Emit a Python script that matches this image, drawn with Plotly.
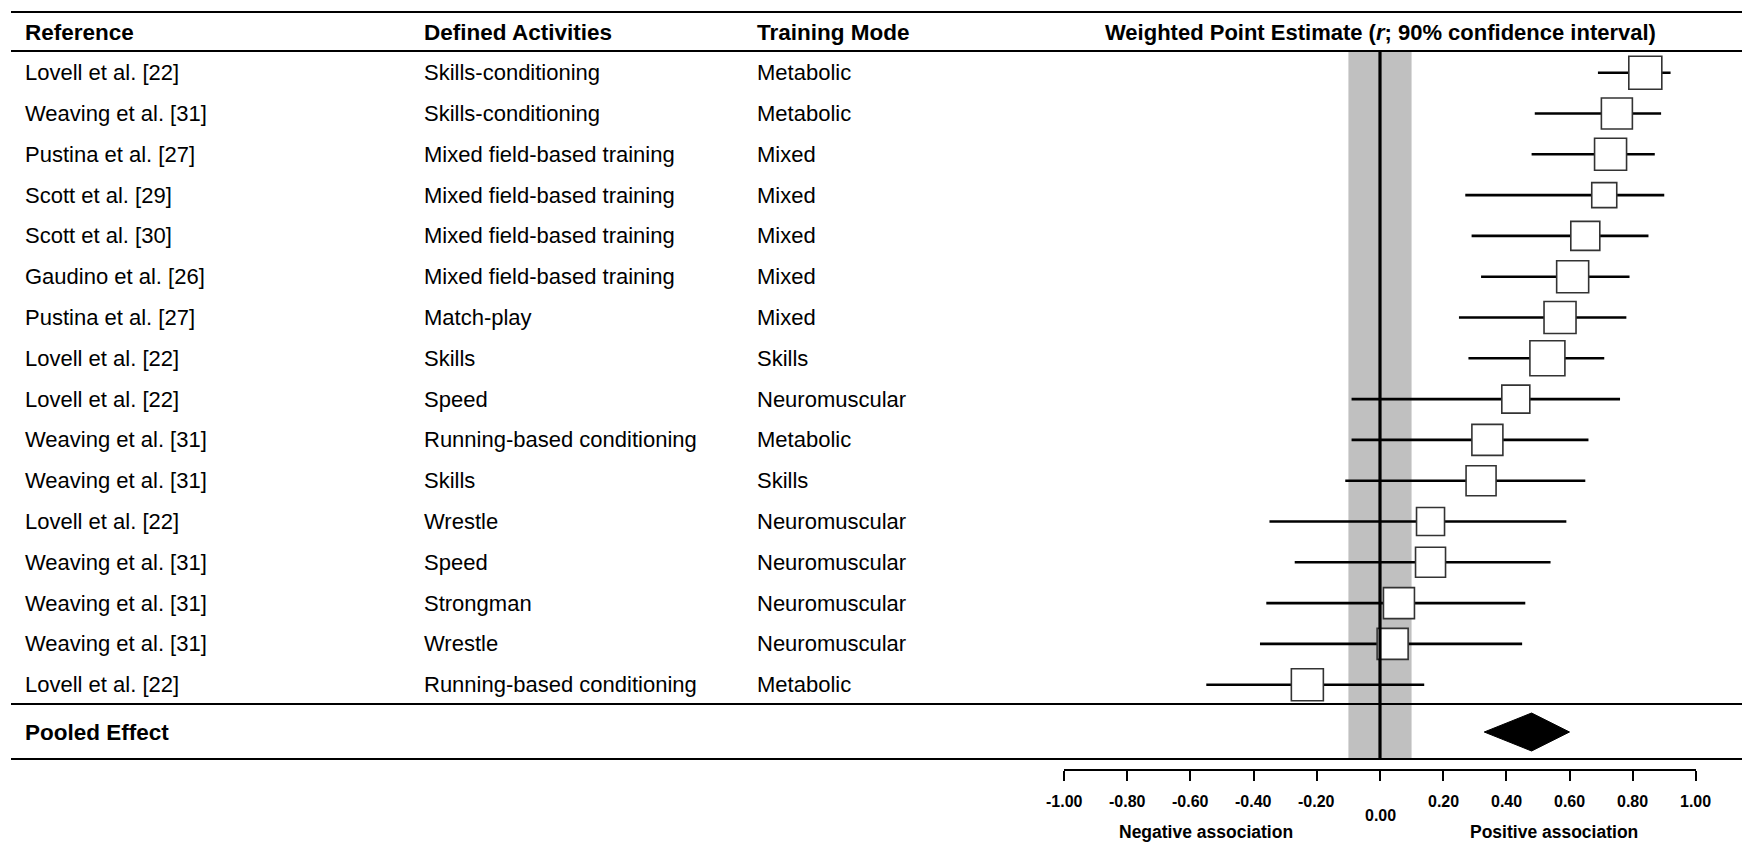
"""Forest plot: training load vs. fitness — weighted point estimates (r; 90% CI)."""

import plotly.graph_objects as go

W, H = 1742, 849

# ---- data -----------------------------------------------------------------
references = [
    "Lovell et al. [22]", "Weaving et al. [31]", "Pustina et al. [27]",
    "Scott et al. [29]", "Scott et al. [30]", "Gaudino et al. [26]",
    "Pustina et al. [27]", "Lovell et al. [22]", "Lovell et al. [22]",
    "Weaving et al. [31]", "Weaving et al. [31]", "Lovell et al. [22]",
    "Weaving et al. [31]", "Weaving et al. [31]", "Weaving et al. [31]",
    "Lovell et al. [22]",
]
activities = [
    "Skills-conditioning", "Skills-conditioning", "Mixed field-based training",
    "Mixed field-based training", "Mixed field-based training",
    "Mixed field-based training", "Match-play", "Skills", "Speed",
    "Running-based conditioning", "Skills", "Wrestle", "Speed", "Strongman",
    "Wrestle", "Running-based conditioning",
]
modes = [
    "Metabolic", "Metabolic", "Mixed", "Mixed", "Mixed", "Mixed", "Mixed",
    "Skills", "Neuromuscular", "Metabolic", "Skills", "Neuromuscular",
    "Neuromuscular", "Neuromuscular", "Neuromuscular", "Metabolic",
]
estimates = [0.84, 0.75, 0.73, 0.71, 0.65, 0.61, 0.57, 0.53,
             0.43, 0.34, 0.32, 0.16, 0.16, 0.06, 0.04, -0.23]
ci_low = [0.69, 0.49, 0.48, 0.27, 0.29, 0.32, 0.25, 0.28,
          -0.09, -0.09, -0.11, -0.35, -0.27, -0.36, -0.38, -0.55]
ci_high = [0.92, 0.89, 0.87, 0.90, 0.85, 0.79, 0.78, 0.71,
           0.76, 0.66, 0.65, 0.59, 0.54, 0.46, 0.45, 0.14]
weights = [33, 31, 32, 25, 29, 32, 32, 35, 28, 31, 30, 28, 30, 31, 31, 32]

pooled_est, pooled_low, pooled_high = 0.48, 0.33, 0.60
trivial = 0.1  # shaded band +/- r
tick_vals = [-1.0, -0.8, -0.6, -0.4, -0.2, 0.0, 0.2, 0.4, 0.6, 0.8, 1.0]

# ---- layout helpers ---------------------------------------------------------
ROW0, ROW_H = 72.7, 40.8  # pixel centre of first row, row pitch
POOLED_ROW = (732 - ROW0) / ROW_H
FONT = "Liberation Sans, Arial, sans-serif"
BLACK = "#000000"


def py(px):
    """pixel-from-top -> paper fraction"""
    return 1 - px / H


def px_x(px):
    return px / W


n = len(references)
rows = list(range(n))

fig = go.Figure()

# CI whiskers
wx, wy = [], []
for i in rows:
    wx += [ci_low[i], ci_high[i], None]
    wy += [i, i, None]
fig.add_trace(go.Scatter(
    x=wx, y=wy, mode="lines", line={"color": BLACK, "width": 2.6},
    hoverinfo="skip", showlegend=False,
))

# point estimates (size array -> plotly would default to 0.7 opacity)
fig.add_trace(go.Scatter(
    x=estimates, y=rows, mode="markers",
    marker={"symbol": "square", "size": weights, "color": "white",
            "opacity": 1,
            "line": {"color": "#333333", "width": 1.6}},
    customdata=list(zip(ci_low, ci_high)),
    hovertemplate="r = %{x:.2f} (%{customdata[0]:.2f}, %{customdata[1]:.2f})<extra></extra>",
    showlegend=False,
))

# pooled diamond
dh = 19 / ROW_H
fig.add_trace(go.Scatter(
    x=[pooled_low, pooled_est, pooled_high, pooled_est, pooled_low],
    y=[POOLED_ROW, POOLED_ROW - dh, POOLED_ROW, POOLED_ROW + dh, POOLED_ROW],
    mode="lines", fill="toself", fillcolor=BLACK,
    line={"color": BLACK, "width": 1}, hoverinfo="skip", showlegend=False,
))

shapes = []
# trivial band + zero line, from header rule to bottom rule
shapes.append(dict(type="rect", xref="x", yref="paper", x0=-trivial, x1=trivial,
                   y0=py(759), y1=py(51), fillcolor="#c0c0c0",
                   line={"width": 0}, layer="below"))
shapes.append(dict(type="line", xref="x", yref="paper", x0=0, x1=0,
                   y0=py(759), y1=py(51), line={"color": BLACK, "width": 3.2}))
# table rules
for ypx in (12, 51, 704, 759):
    shapes.append(dict(type="line", xref="paper", yref="paper",
                       x0=px_x(11), x1=1, y0=py(ypx), y1=py(ypx),
                       line={"color": BLACK, "width": 2.2}))

ann = []
col_x = [px_x(23), px_x(422), px_x(755)]
headers = ["Reference", "Defined Activities", "Training Mode"]
for cx, h in zip(col_x, headers):
    ann.append(dict(x=cx, y=py(32), xref="paper", yref="paper", text=f"<b>{h}</b>",
                    xanchor="left", yanchor="middle", showarrow=False,
                    font={"size": 22.5, "family": FONT, "color": BLACK}))
ann.append(dict(x=0, y=py(32), xref="x", yref="paper",
                text="<b>Weighted Point Estimate (<i>r</i>; 90% confidence interval)</b>",
                xanchor="center", yanchor="middle", showarrow=False,
                font={"size": 22, "family": FONT, "color": BLACK}))

for i in rows:
    for cx, txt in zip(col_x, (references[i], activities[i], modes[i])):
        ann.append(dict(x=cx, y=i, xref="paper", yref="y", text=txt,
                        xanchor="left", yanchor="middle", showarrow=False,
                        font={"size": 22, "family": FONT, "color": BLACK}))

ann.append(dict(x=col_x[0], y=POOLED_ROW, xref="paper", yref="y",
                text="<b>Pooled Effect</b>", xanchor="left", yanchor="middle",
                showarrow=False, font={"size": 22.5, "family": FONT, "color": BLACK}))

# axis tick labels (0.00 sits a little lower, as in the original)
for v in tick_vals:
    ann.append(dict(x=v, y=py(815 if v == 0 else 801), xref="x", yref="paper",
                    text=f"<b>{v:.2f}</b>", xanchor="center", yanchor="middle",
                    showarrow=False,
                    font={"size": 16, "family": FONT, "color": BLACK}))
for v, txt in ((-0.55, "Negative association"), (0.55, "Positive association")):
    ann.append(dict(x=v, y=py(832), xref="x", yref="paper", text=f"<b>{txt}</b>",
                    xanchor="center", yanchor="middle", showarrow=False,
                    font={"size": 17.5, "family": FONT, "color": BLACK}))

fig.update_layout(
    width=W, height=H,
    margin={"l": 0, "r": 0, "t": 0, "b": 0},
    paper_bgcolor="white", plot_bgcolor="rgba(0,0,0,0)",
    xaxis={"domain": [px_x(1064), px_x(1696)], "range": [-1.0005, 1.0005],
           "anchor": "free", "position": py(770),
           "tickvals": tick_vals, "ticks": "outside", "ticklen": 10,
           "tickwidth": 2.2, "tickcolor": BLACK, "showline": True,
           "linecolor": BLACK, "linewidth": 2.2, "showgrid": False,
           "zeroline": False, "showticklabels": False, "fixedrange": True},
    yaxis={"domain": [0, 1], "range": [(H - ROW0) / ROW_H, -ROW0 / ROW_H],
           "visible": False, "fixedrange": True},
    shapes=shapes, annotations=ann, showlegend=False,
)

# page body has a default 8px margin; drop it so the figure sits at (0, 0)
fig.write_html(
    "out.html",
    config={"displayModeBar": False},
    post_script="document.body.style.margin='0';document.body.style.overflow='hidden';",
)
